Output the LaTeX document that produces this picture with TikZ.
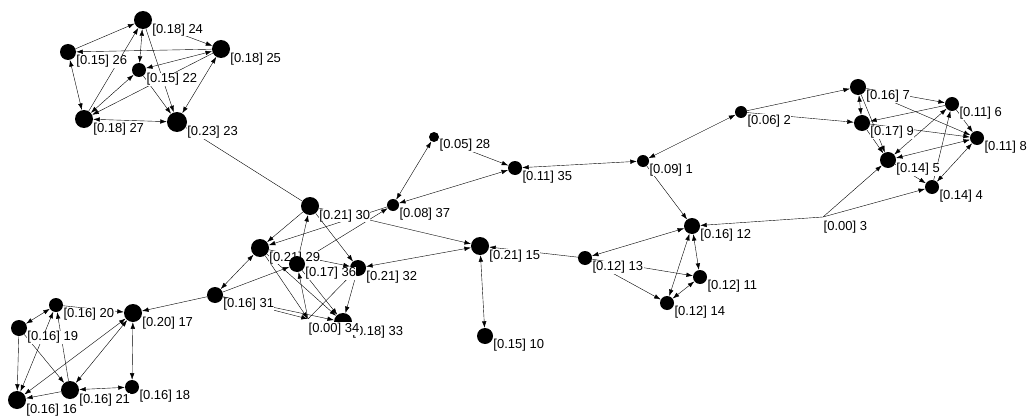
\documentclass[tikz,border=0pt]{standalone}
\usepackage{fontspec}
\setmainfont{Liberation Sans}
\usetikzlibrary{arrows.meta,backgrounds}

\begin{document}
\begin{tikzpicture}[x=1pt,y=-1pt,>={Latex[length=6.5pt,width=4.5pt]},line width=0.55pt,
vtx/.style={circle, fill=black, inner sep=0pt, minimum size=#1},
nul/.style={circle, inner sep=0pt, minimum size=0pt},
lab/.style={anchor=north west, fill=white, inner sep=0.4pt, font=\fontsize{13}{14}\selectfont}]

\useasboundingbox (0,0) rectangle (1027,417);

\draw (643,161) node[vtx=12pt] (n1) {};
\draw (n1.-20) node[lab] (l1) {[0.09] 1};
\draw (741,112) node[vtx=12pt] (n2) {};
\draw (n2.-20) node[lab] (l2) {[0.06] 2};
\draw (823,217) node[nul] (n3) {};
\draw ([yshift=-3pt]n3) node[lab] (l3) {[0.00] 3};
\draw (932,187) node[vtx=14pt] (n4) {};
\draw (n4.-20) node[lab] (l4) {[0.14] 4};
\draw (888,160) node[vtx=16pt] (n5) {};
\draw (n5.-20) node[lab] (l5) {[0.14] 5};
\draw (952,104) node[vtx=14pt] (n6) {};
\draw (n6.-20) node[lab] (l6) {[0.11] 6};
\draw (858,87) node[vtx=16pt] (n7) {};
\draw (n7.-20) node[lab] (l7) {[0.16] 7};
\draw (977,138) node[vtx=14pt] (n8) {};
\draw (n8.-20) node[lab] (l8) {[0.11] 8};
\draw (862,123) node[vtx=16pt] (n9) {};
\draw (n9.-20) node[lab] (l9) {[0.17] 9};
\draw (485,336) node[vtx=16pt] (n10) {};
\draw (n10.-20) node[lab] (l10) {[0.15] 10};
\draw (700,277) node[vtx=14pt] (n11) {};
\draw (n11.-20) node[lab] (l11) {[0.12] 11};
\draw (692,226) node[vtx=16pt] (n12) {};
\draw (n12.-20) node[lab] (l12) {[0.16] 12};
\draw (585,258) node[vtx=14pt] (n13) {};
\draw (n13.-20) node[lab] (l13) {[0.12] 13};
\draw (667,303) node[vtx=14pt] (n14) {};
\draw (n14.-20) node[lab] (l14) {[0.12] 14};
\draw (480,246) node[vtx=18pt] (n15) {};
\draw (n15.-20) node[lab] (l15) {[0.21] 15};
\draw (17,400) node[vtx=18pt] (n16) {};
\draw (n16.-20) node[lab] (l16) {[0.16] 16};
\draw (133,313) node[vtx=18pt] (n17) {};
\draw (n17.-20) node[lab] (l17) {[0.20] 17};
\draw (132,387) node[vtx=14pt] (n18) {};
\draw (n18.-20) node[lab] (l18) {[0.16] 18};
\draw (19,328) node[vtx=16pt] (n19) {};
\draw (n19.-20) node[lab] (l19) {[0.16] 19};
\draw (56,305) node[vtx=14pt] (n20) {};
\draw (n20.-20) node[lab] (l20) {[0.16] 20};
\draw (70,390) node[vtx=18pt] (n21) {};
\draw (n21.-20) node[lab] (l21) {[0.16] 21};
\draw (139,70) node[vtx=14pt] (n22) {};
\draw (n22.-20) node[lab] (l22) {[0.15] 22};
\draw (177,122) node[vtx=20pt] (n23) {};
\draw (n23.-20) node[lab] (l23) {[0.23] 23};
\draw (143,20) node[vtx=18pt] (n24) {};
\draw (n24.-20) node[lab] (l24) {[0.18] 24};
\draw (221,49) node[vtx=18pt] (n25) {};
\draw (n25.-20) node[lab] (l25) {[0.18] 25};
\draw (68,52) node[vtx=16pt] (n26) {};
\draw (n26.-20) node[lab] (l26) {[0.15] 26};
\draw (84,119) node[vtx=18pt] (n27) {};
\draw (n27.-20) node[lab] (l27) {[0.18] 27};
\draw (434,137) node[vtx=10pt] (n28) {};
\draw (n28.-20) node[lab] (l28) {[0.05] 28};
\draw (260,248) node[vtx=18pt] (n29) {};
\draw (n29.-20) node[lab] (l29) {[0.21] 29};
\draw (310,206) node[vtx=18pt] (n30) {};
\draw (n30.-20) node[lab] (l30) {[0.21] 30};
\draw (215,295) node[vtx=16pt] (n31) {};
\draw (n31.-20) node[lab] (l31) {[0.16] 31};
\draw (358,268) node[vtx=16pt] (n32) {};
\draw (n32.-20) node[lab] (l32) {[0.21] 32};
\draw (343,322) node[vtx=18pt] (n33) {};
\draw (n33.-20) node[lab] (l33) {[0.18] 33};
\draw (308,319) node[nul] (n34) {};
\draw ([yshift=-3pt]n34) node[lab] (l34) {[0.00] 34};
\draw (515,168) node[vtx=14pt] (n35) {};
\draw (n35.-20) node[lab] (l35) {[0.11] 35};
\draw (297,264) node[vtx=16pt] (n36) {};
\draw (n36.-20) node[lab] (l36) {[0.17] 36};
\draw (393,205) node[vtx=12pt] (n37) {};
\draw (n37.-20) node[lab] (l37) {[0.08] 37};

\begin{scope}[on background layer]
\draw[->] (n26)--(n24);
\draw[->] (n25)--(n26);
\draw[<->] (n26)--(n27);
\draw[<->] (n24)--(n22);
\draw[->] (n27)--(n24);
\draw[<->] (n22)--(n27);
\draw[->] (n25)--(n27);
\draw[<->] (n22)--(n25);
\draw[->] (n24)--(n25);
\draw[->] (n24)--(n23);
\draw[->] (n22)--(n23);
\draw[<->] (n25)--(n23);
\draw[<->] (n27)--(n23);
\draw (n23)--(n30);

\draw[->] (n30)--(n29);
\draw[->] (n37)--(n29);
\draw[->] (n36)--(n30);
\draw[->] (n34)--(n36);
\draw[->] (n30)--(n32);
\draw[->] (n29)--(n33);
\draw[->] (n36)--(n33);
\draw[->] (n29)--(n34);
\draw[<->] (n31)--(n29);
\draw[->] (n31)--(n36);
\draw[->] (n31)--(n34);
\draw[->] (n31)--(n33);
\draw[->] (n34)--(n32);
\draw[->] (n32)--(n33);
\draw[->] (n36)--(n37);
\draw[->] (n29)--(n32);
\draw[->] (n30)--(n15);
\draw[<->] (n28)--(n37);
\draw[->] (n28)--(n35);
\draw[<->] (n35)--(n37);
\draw[<->] (n35)--(n1);
\draw[<->] (n32)--(n15);
\draw[<->] (n15)--(n10);
\draw[->] (n13)--(n15);
\draw[->] (n31)--(n17);

\draw[->] (n20)--(n17);
\draw[<->] (n19)--(n20);
\draw[->] (n21)--(n20);
\draw[<->] (n20)--(n16);
\draw[->] (n19)--(n16);
\draw[->] (n19)--(n21);
\draw[<->] (n17)--(n16);
\draw[<->] (n17)--(n21);
\draw[<->] (n17)--(n18);
\draw[->] (n21)--(n16);
\draw[<->] (n21)--(n18);

\draw[<->] (n1)--(n2);
\draw[->] (n1)--(n12);
\draw[->] (n3)--(n12);
\draw[<->] (n12)--(n13);
\draw[->] (n13)--(n11);
\draw[->] (n13)--(n14);
\draw[<->] (n12)--(n11);
\draw[<->] (n12)--(n14);
\draw[<->] (n14)--(n11);
\draw[->] (n3)--(n5);
\draw[->] (n3)--(n4);
\draw[->] (n2)--(n7);
\draw[->] (n2)--(n9);
\draw[<->] (n7)--(n9);
\draw[->] (n6)--(n9);
\draw[->] (n7)--(n6);
\draw[->] (n7)--(n8);
\draw[->] (n7)--(n5);
\draw[->] (n9)--(n5);
\draw[->] (n9)--(n8);
\draw[<->] (n5)--(n8);
\draw[<->] (n6)--(n5);
\draw[->] (n4)--(n6);
\draw[->] (n5)--(n4);
\draw[->] (n6)--(n8);
\draw[<->] (n8)--(n4);
\end{scope}
\end{tikzpicture}
\end{document}
